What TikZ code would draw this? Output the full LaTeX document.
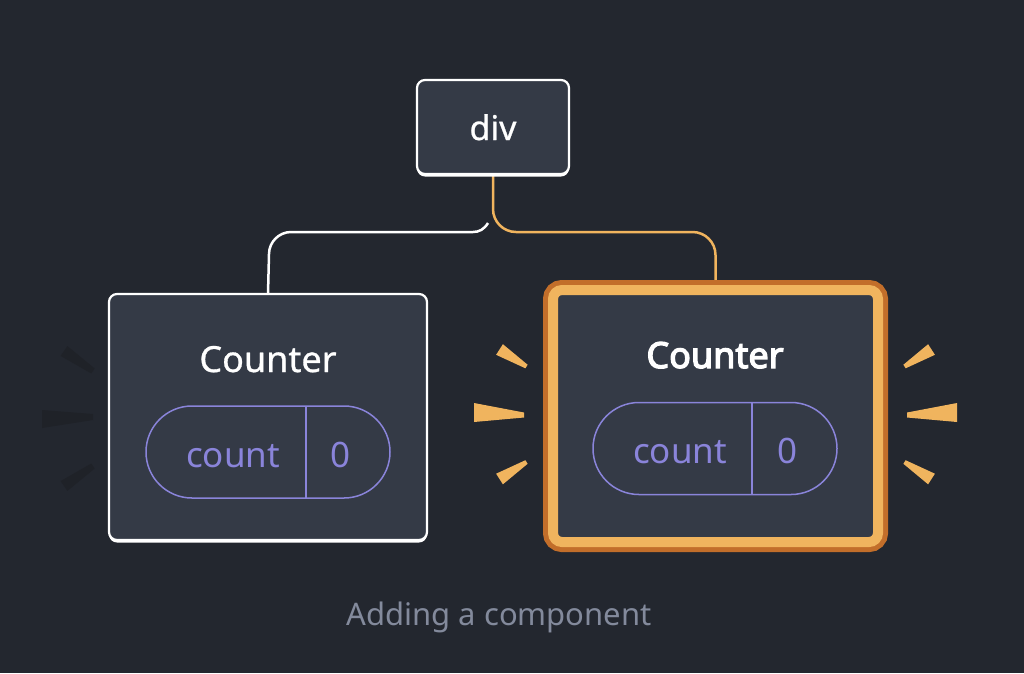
\documentclass[tikz,border=0pt]{standalone}
\usepackage{fontspec}
\setmainfont{Noto Sans}
\newfontfamily\heavyfont[FakeBold=3.5]{Noto Sans}
\newfontfamily\midfont[FakeBold=0.8]{Noto Sans}
\usetikzlibrary{calc}
\definecolor{bg}{HTML}{23272F}
\definecolor{boxfill}{HTML}{343A46}
\definecolor{pur}{HTML}{8A84DA}
\definecolor{lorange}{HTML}{F0B45E}
\definecolor{dorange}{HTML}{C26E2A}
\definecolor{capgray}{HTML}{838A9C}
\definecolor{faint}{HTML}{1F2228}
\pgfdeclarelayer{backdrop}
\pgfdeclarelayer{wires}
\pgfsetlayers{backdrop,wires,main}
\begin{document}
\begin{tikzpicture}[x=1pt,y=-1pt,
  box/.style={draw=white, line width=2.2pt, fill=boxfill, rounded corners=8pt,
    inner sep=0pt, outer sep=0pt,
    preaction={fill=white, transform canvas={yshift=-2.5pt}}},
  hbox/.style={draw=lorange, line width=10pt, fill=boxfill, rounded corners=9pt,
    inner sep=0pt, outer sep=0pt, preaction={draw=dorange, line width=20pt}},
  pill/.style={draw=pur, line width=1.5pt, rounded corners=46pt,
    minimum width=244pt, minimum height=92pt, inner sep=0pt, outer sep=0pt},
  divider/.style={draw=pur, line width=1.5pt},
  title/.style={text=white, anchor=base, inner sep=0pt, font=\midfont\fontsize{36}{40}\selectfont},
  purtext/.style={text=pur, anchor=base, inner sep=0pt, font=\fontsize{35}{40}\selectfont},
  wire/.style={line width=2.5pt},
  ray/.style={fill=lorange},
  fadedray/.style={fill=faint},
]
\begin{pgfonlayer}{backdrop}
\fill[bg] (0,0) rectangle (1024,673);
\end{pgfonlayer}
\useasboundingbox (0,0) rectangle (1024,673);

% div
\node[box, minimum width=152pt, minimum height=94pt] (div) at (493,127) {};
\node[title, font=\midfont\fontsize{34}{40}\selectfont] (divt) at (493,140) {div};

% left Counter
\node[box, minimum width=318pt, minimum height=246pt] (c1) at (268,417) {};
\node[title] (t1) at (268,372) {Counter};
\node[pill] (p1) at (268,452) {};
\draw[divider] ($(p1.north west)+(160,0)$) -- ($(p1.south west)+(160,0)$);
\node[purtext] (k1) at (233,467) {count};
\node[purtext] (v1) at (341,467) {0};

% right Counter (highlighted)
\node[hbox, minimum width=325pt, minimum height=252pt] (c2) at (715.5,416) {};
\node[title, font=\heavyfont\fontsize{36}{40}\selectfont] (t2) at (715,368) {Counter};
\node[pill] (p2) at (715,448.5) {};
\draw[divider] ($(p2.north west)+(159,0)$) -- ($(p2.south west)+(159,0)$);
\node[purtext] (k2) at (680,463) {count};
\node[purtext] (v2) at (787,463) {0};

% connectors
\coordinate (wend) at (488,223);
\begin{pgfonlayer}{wires}
\draw[wire, lorange, rounded corners=23pt] (div.south) |- (c2.north |- 0,232) -- (c2.north);
\draw[wire, white] (c1.north) -- (269,254) .. controls (269,242) and (279,232) .. (291,232)
  -- (473,232) .. controls (479,232) and (484,229.5) .. (wend);
\end{pgfonlayer}

% sparkle rays
\fill[ray] (496.1,354.8) -- (502.9,344.2) -- (527.6,364.7) -- (525.4,368.3) -- cycle;
\fill[ray] (474,403) -- (474,422) -- (524,417.5) -- (524,412.5) -- cycle;
\fill[ray] (502.9,484.3) -- (496.1,473.7) -- (525.4,460.2) -- (527.6,463.8) -- cycle;
\fill[ray] (934.9,354.8) -- (928.1,344.2) -- (903.4,364.7) -- (905.6,368.3) -- cycle;
\fill[ray] (957,403) -- (957,422) -- (907,417.5) -- (907,412.5) -- cycle;
\fill[ray] (928.1,484.3) -- (934.9,473.7) -- (905.6,460.2) -- (903.4,463.8) -- cycle;

% faint fading rays
\fill[fadedray] (60.6,355.9) -- (67.4,346.1) -- (94.7,368.5) -- (91.3,373.5) -- cycle;
\fill[fadedray] (42,410) -- (42,428) -- (93,420) -- (93,414) -- cycle;
\fill[fadedray] (67.4,490.9) -- (60.6,481.1) -- (91.3,463.5) -- (94.7,468.5) -- cycle;

% caption
\node[anchor=base, inner sep=0pt, text=capgray, font=\fontsize{31}{36}\selectfont] (cap) at (499,625) {Adding a component};
\end{tikzpicture}
\end{document}
